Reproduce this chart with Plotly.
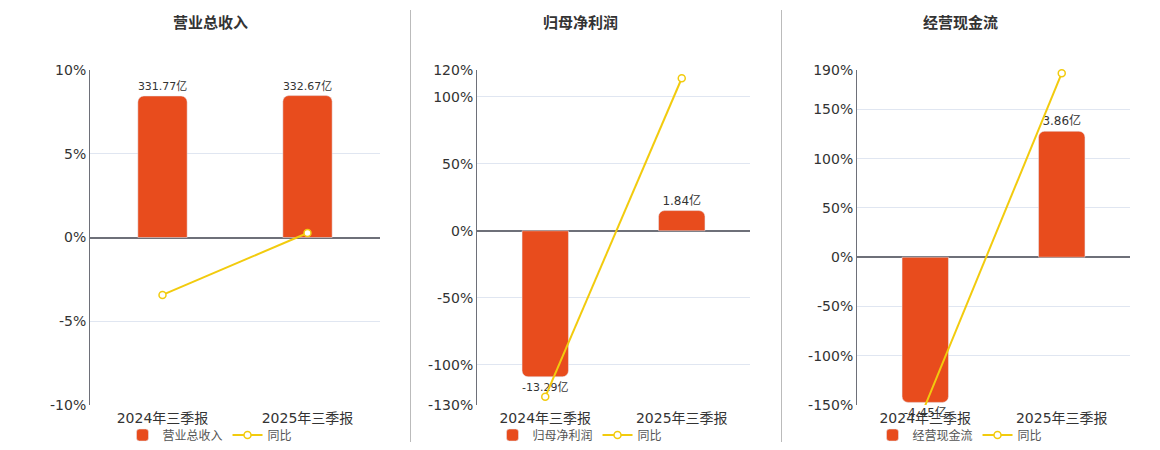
import plotly.graph_objects as go
from plotly.subplots import make_subplots

periods = ["2024年三季报", "2025年三季报"]

titles = ["营业总收入", "归母净利润", "经营现金流"]
bar_values = [
    [331.77, 332.67],
    [-13.29, 1.84],
    [-4.45, 3.86],
]
yoy_values = [
    [-3.43, 0.27],
    [-123.9, 113.84],
    [-150.3, 186.74],
]
pct_ticks = [
    [10, 5, 0, -5, -10],
    [120, 100, 50, 0, -50, -100, -130],
    [190, 150, 100, 50, 0, -50, -100, -150],
]
# bar axis units per percent point, keeps both zeros on one line
bar_scale = [39.27, 0.122, 0.0302]

BAR = "#E84C1D"
LINE = "#F2CB0E"
TXT = "#333333"
AXIS = "#6E7079"
GRID = "#E0E6F1"
FONT = "DejaVu Sans, Noto Sans CJK SC, sans-serif"
CJK = "Noto Sans CJK SC"

# figure sits inside the page body (8px margin)
W, H, OFF = 1144, 434, 8


def fx(px):
    return (px - OFF) / W


def fy(py):
    return 1 - (py - OFF) / H


fig = make_subplots(rows=1, cols=3, specs=[[{"secondary_y": True}] * 3])

x_dom = [(90, 380), (477, 750), (857, 1130)]
centers = [210, 580, 960]

for i in range(3):
    col = i + 1
    leg = "legend" if i == 0 else f"legend{col}"
    fig.add_trace(go.Bar(
        x=periods, y=bar_values[i], name=titles[i],
        marker=dict(color=BAR, cornerradius=6),
        width=0.34,
        text=[f"{v:.2f}亿" for v in bar_values[i]],
        textposition="outside", cliponaxis=False,
        textfont=dict(size=12, color=TXT, family=FONT),
        legend=leg, hoverinfo="skip",
    ), row=1, col=col, secondary_y=False)
    fig.add_trace(go.Scatter(
        x=periods, y=yoy_values[i], name="同比", mode="lines+markers",
        line=dict(color=LINE, width=2),
        marker=dict(size=7, color="white", line=dict(color=LINE, width=1.5)),
        cliponaxis=False, legend=leg,
    ), row=1, col=col, secondary_y=True)

    ticks = pct_ticks[i]
    k = bar_scale[i]
    lo, hi = min(ticks), max(ticks)
    xa = "xaxis" if i == 0 else f"xaxis{col}"
    ya = "yaxis" if i == 0 else f"yaxis{2 * i + 1}"
    yb = f"yaxis{2 * i + 2}"
    d0, d1 = x_dom[i]
    fig.layout[xa].update(
        domain=[fx(d0), fx(d1)], showgrid=False, showline=False, ticks="",
        tickfont=dict(size=14, color=TXT, family=FONT), ticklabelstandoff=3,
    )
    fig.layout[ya].update(
        domain=[fy(405), fy(70)], range=[lo * k, hi * k],
        tickvals=[t * k for t in ticks], showticklabels=False,
        showgrid=True, gridcolor=GRID, gridwidth=1,
        zeroline=True, zerolinecolor=AXIS, zerolinewidth=2,
    )
    fig.layout[yb].update(
        range=[lo, hi], tickvals=ticks, ticktext=[f"{t}%" for t in ticks],
        side="left", showgrid=False, zeroline=False,
        showline=True, linecolor=AXIS, linewidth=1,
        tickfont=dict(size=14, color=TXT, family=FONT),
    )
    fig.layout[leg] = dict(
        orientation="h", x=fx(centers[i]), xanchor="center",
        y=fy(435), yanchor="middle",
        font=dict(size=12, color="#555555", family=CJK),
        bgcolor="rgba(0,0,0,0)", tracegroupgap=0,
    )
    fig.add_annotation(
        x=fx(centers[i]), y=fy(22), xref="paper", yref="paper",
        text=f"<b>{titles[i]}</b>", showarrow=False,
        xanchor="center", yanchor="middle",
        font=dict(size=15, color=TXT, family=CJK),
    )

for xs in [410.5, 781.5]:
    fig.add_shape(type="line", xref="paper", yref="paper",
                  x0=fx(xs), x1=fx(xs), y0=fy(10), y1=fy(443),
                  line=dict(color="#BBBBBB", width=1))

fig.update_layout(
    width=W, height=H,
    margin=dict(l=0, r=0, t=0, b=0, autoexpand=False),
    plot_bgcolor="white", paper_bgcolor="white",
    font=dict(family=FONT, color=TXT), bargap=0.66,
)

fig.write_html("out.html")
